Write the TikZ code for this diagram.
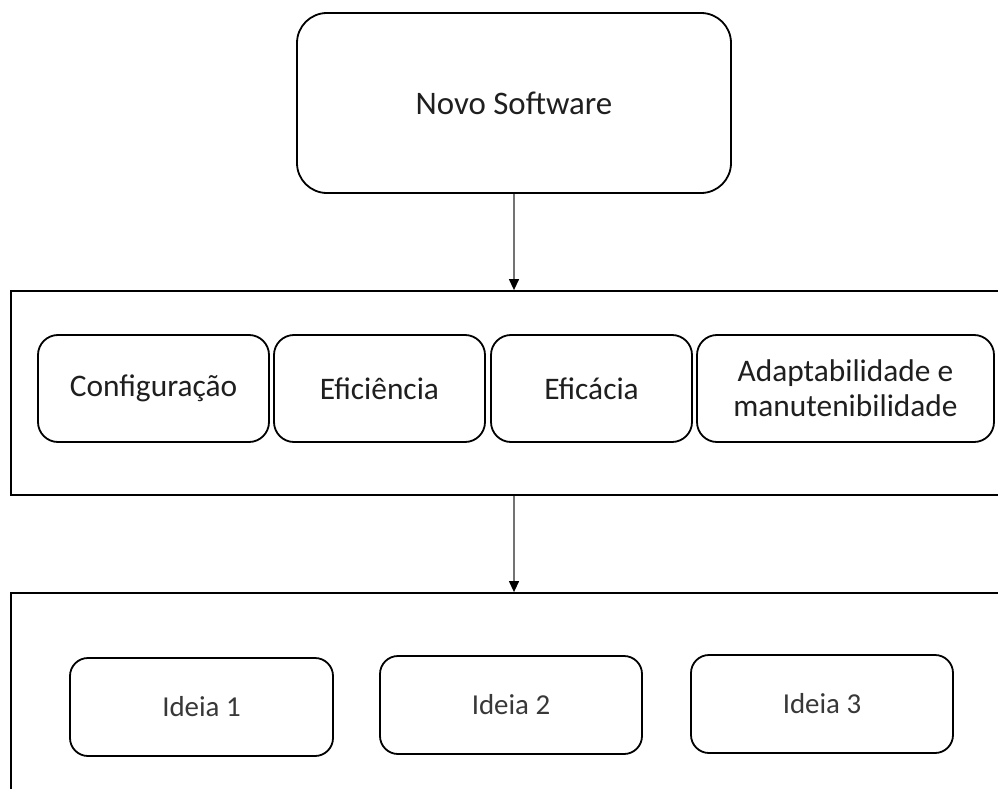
\documentclass[tikz,border=0pt]{standalone}
\usepackage{fontspec}
\setmainfont{Carlito}
\usetikzlibrary{arrows.meta}
\tikzset{
  x=1bp, y=-1bp,
  frame/.style={draw=black, line width=1.8bp, inner sep=0pt},
  card/.style={draw=black, line width=1.8bp, rounded corners=#1, inner sep=0pt, align=center, text=black!88},
  midtext/.style={font=\fontsize{31.5}{35}\selectfont},
  ideatext/.style={font=\fontsize{29}{34}\selectfont, text=black!78},
  conn/.style={draw=black!55, line width=1.3bp, -{Triangle[width=10bp,length=11bp,color=black]}},
}
\begin{document}
\begin{tikzpicture}
\useasboundingbox (0,0) rectangle (998,789);
\clip (0,0) rectangle (998,789);
\fill[white] (0,0) rectangle (998,789);

% top block
\node[card=30bp, minimum width=434bp, minimum height=180bp,
      font=\fontsize{33}{38}\selectfont] (top) at (514,103) {\raisebox{-4bp}{Novo Software}};

% first container with the four criteria
\node[frame, minimum width=1000bp, minimum height=204bp] (crit) at (511,393) {};
\node[card=20bp, midtext, minimum width=231bp, minimum height=107bp] (c1) at (153.5,388.5) {Configuração};
\node[card=20bp, midtext, minimum width=211bp, minimum height=107bp] (c2) at (379.5,388.5) {Eficiência};
\node[card=20bp, midtext, minimum width=201bp, minimum height=107bp] (c3) at (591.5,388.5) {Eficácia};
\node[card=20bp, midtext, minimum width=297bp, minimum height=107bp] (c4) at (845.5,388.5) {Adaptabilidade e\\manutenibilidade};

% second container with the ideas
\node[frame, minimum width=1000bp, minimum height=217bp] (ideas) at (511,701.5) {};
\node[card=18bp, ideatext, minimum width=263bp, minimum height=98bp] (i1) at (201.5,707) {Ideia 1};
\node[card=18bp, ideatext, minimum width=262bp, minimum height=98bp] (i2) at (511,705) {Ideia 2};
\node[card=18bp, ideatext, minimum width=262bp, minimum height=98bp] (i3) at (822,704) {Ideia 3};

% connectors
\draw[conn] (top.south) -- (top.south |- crit.north);
\draw[conn] (top.south |- crit.south) -- (top.south |- ideas.north);
\end{tikzpicture}
\end{document}
